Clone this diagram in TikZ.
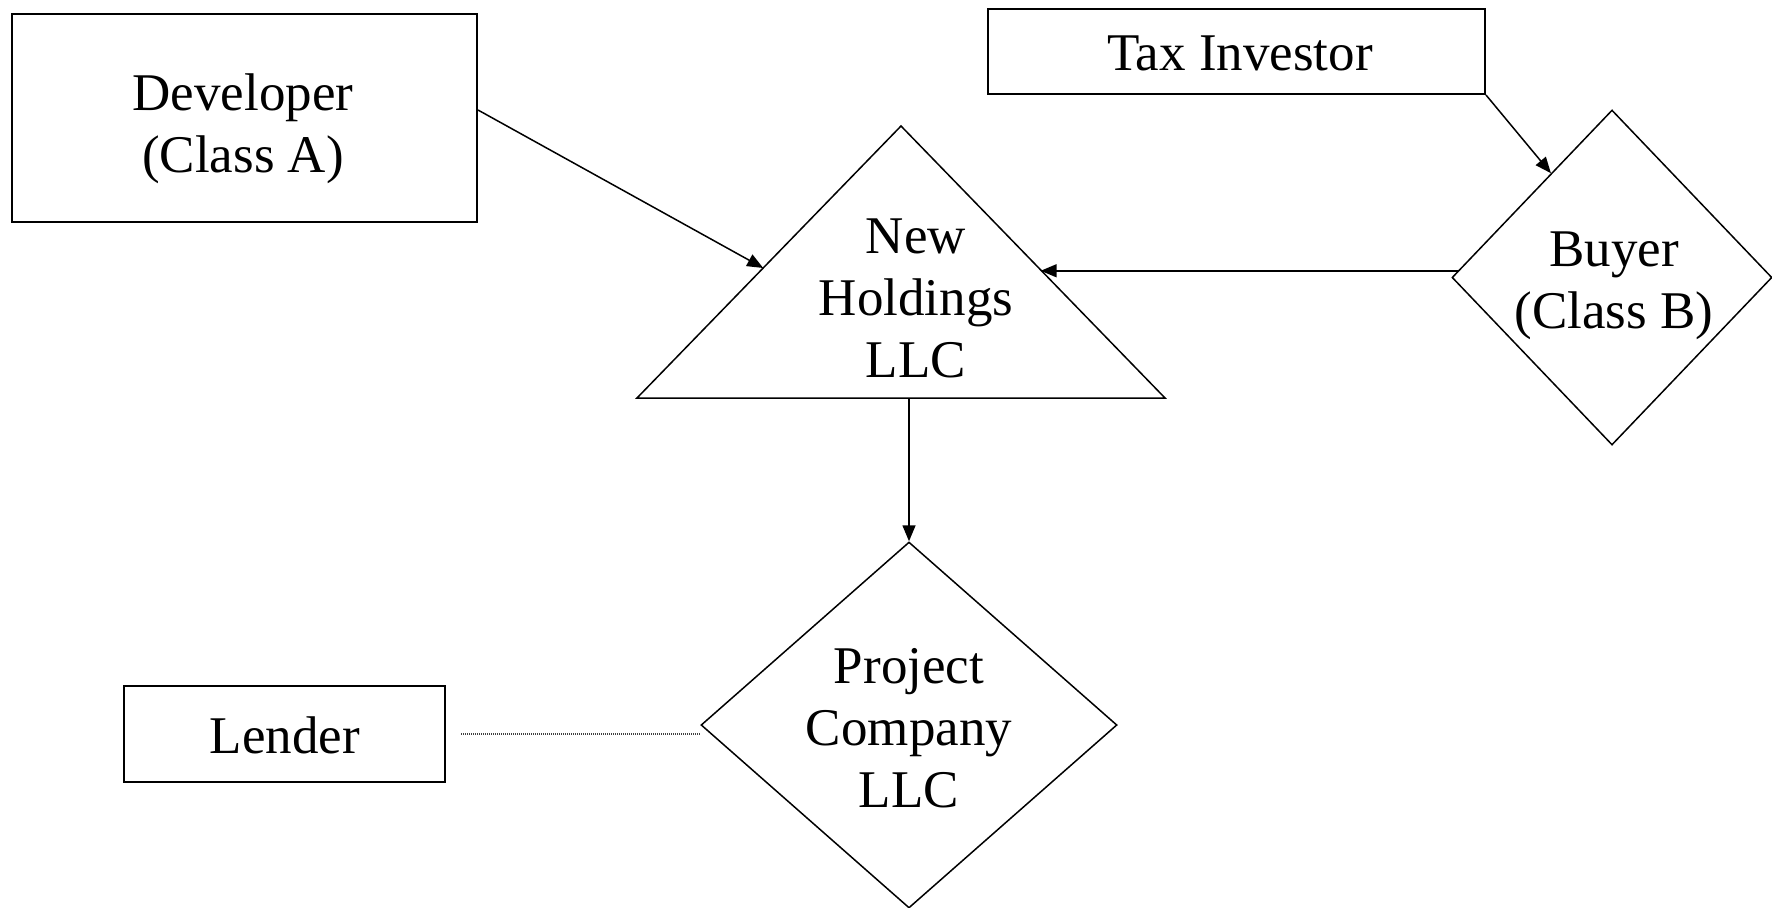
\documentclass[tikz,border=0pt]{standalone}
\usepackage{fontspec}
\setmainfont{Liberation Serif}
\usetikzlibrary{shapes.geometric,arrows.meta,calc}
\begin{document}
\begin{tikzpicture}[x=0.5pt,y=-0.5pt,
  box/.style={draw,line width=1pt,inner sep=0pt,rectangle},
  dia/.style={draw,line width=0.75pt,diamond,inner sep=0pt},
  lbl/.style={align=center,inner sep=0pt,font=\fontsize{26.5}{31}\selectfont},
  arr/.style={line width=0.75pt,-{Triangle[length=8pt,width=6.5pt]}},
  dots/.style={line width=0.7pt,black!75,dash pattern=on 0.6pt off 0.4pt}]
\useasboundingbox (0,0) rectangle (1772,907);

% boxes
\node[box,minimum width=232.5pt,minimum height=104pt] (dev) at (244.5,118) {};
\node[lbl] (devtxt) at (243,129) {Developer\\(Class A)};
\node[box,minimum width=248.5pt,minimum height=42.5pt] (tax) at (1236.5,51.5) {};
\node[lbl] (taxtxt) at (1240,53) {Tax Investor};
\node[box,minimum width=160.5pt,minimum height=48pt] (lender) at (284.5,734) {};
\node[lbl] (lendertxt) at (285,735) {Lender};

% diamonds
\node[dia,minimum width=160pt,minimum height=167.5pt] (buyer) at (1612,277.5) {};
\node[lbl] (buyertxt) at (1614,286) {Buyer\\(Class B)};
\node[dia,minimum width=208pt,minimum height=183pt] (proj) at (909,725) {};
\node[lbl] (projtxt) at (909,728) {Project\\Company\\LLC};

% triangle
\coordinate (tA) at (901,126);
\coordinate (tL) at (637,398);
\coordinate (tR) at (1165,398);
\draw[line width=0.75pt,line join=miter] (tA) -- (tL) -- (tR) -- cycle;
\node[lbl] (holdtxt) at (916,298) {New\\Holdings\\LLC};

% connectors
\coordinate (devstart) at ($(dev.east)+(0,-8)$);
\coordinate (devend) at ($(tA)!0.522!(tL)$);
\draw[arr] (devstart) -- (devend);

\coordinate (taxend) at ($(buyer.north)!0.38!(buyer.west)$);
\draw[arr] (tax.south east) -- (taxend);

\coordinate (bstart) at ($(buyer.west)!0.04!(buyer.north)$);
\coordinate (bend) at ($(tA)!0.529!(tR)$);
\draw[arr] (bstart) -- (bstart -| bend);

\coordinate (hstart) at (proj.north |- tL);
\draw[arr] (hstart) -- (proj.north);

\coordinate (ldot) at ($(lender.east)+(15,0)$);
\draw[dots] (ldot) -- (ldot -| proj.west);
\end{tikzpicture}
\end{document}
